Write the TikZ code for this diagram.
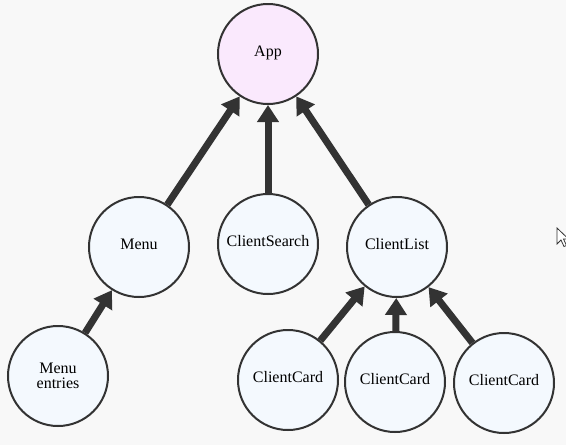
\documentclass[tikz,border=0pt]{standalone}
\usepackage{fontspec}
\setmainfont{Liberation Serif}
\usetikzlibrary{arrows.meta}
\definecolor{bg}{HTML}{F8F8F8}
\definecolor{edge}{HTML}{333333}
\definecolor{appfill}{HTML}{FAE9FD}
\definecolor{nodefill}{HTML}{F4F9FE}
\tikzset{
  comp/.style={circle, draw=edge, line width=2pt, fill=nodefill, minimum size=100pt, inner sep=0pt, align=center, font=\fontsize{16}{15}\selectfont},
  single/.style={text height=11pt, text depth=6pt},
  root/.style={comp, single, fill=appfill},
  link/.style={draw=edge, line width=7pt, -{Triangle[length=17pt,width=21pt]}}
}
\begin{document}
\begin{tikzpicture}[x=1pt,y=-1pt]
\fill[bg] (0,0) rectangle (566,445);
\useasboundingbox (0,0) rectangle (566,445);
\node[root] (app) at (268,54) {App};
\node[comp, single] (menu) at (139,247) {Menu};
\node[comp, single] (search) at (268,244) {ClientSearch};
\node[comp, single] (list) at (397,247) {ClientList};
\node[comp] (entries) at (58,376) {Menu\\entries};
\node[comp, single] (card1) at (288,380) {ClientCard};
\node[comp, single] (card2) at (395,382) {ClientCard};
\node[comp, single] (card3) at (504,383) {ClientCard};
\draw[link] (menu) -- (app);
\draw[link] (search) -- (app);
\draw[link] (list) -- (app);
\draw[link] (entries) -- (menu);
\draw[link] (card1) -- (list);
\draw[link] (card2) -- (list);
\draw[link] (card3) -- (list);
% mouse cursor
\draw[fill=white, draw=edge, line width=0.8pt, line join=miter]
  (557,228) -- (557,244) -- (561,240) -- (564,246.5) -- (566.5,245.5) -- (563.5,239) -- (568.5,239) -- cycle;
\end{tikzpicture}
\end{document}
